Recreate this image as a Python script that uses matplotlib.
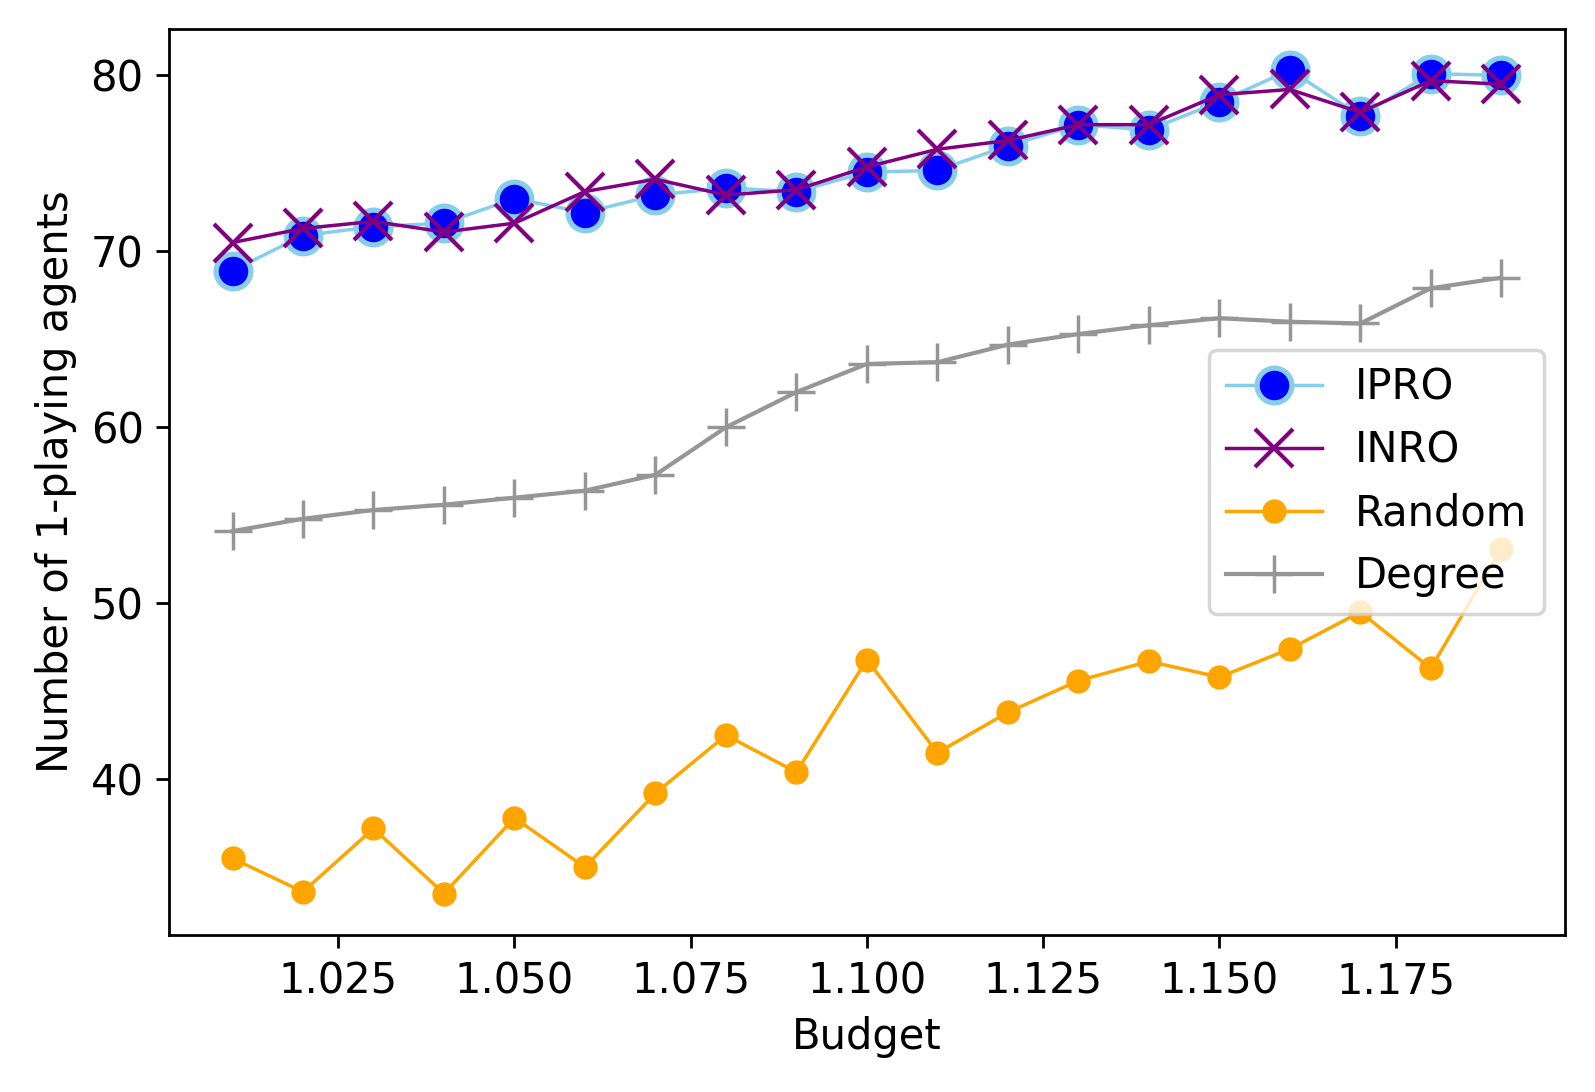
import numpy as np
import matplotlib
matplotlib.use('Agg')
import matplotlib.pyplot as plt

# budget values on the x axis
budget = [1.01, 1.02, 1.03, 1.04, 1.05, 1.06, 1.07, 1.08, 1.09, 1.10,
          1.11, 1.12, 1.13, 1.14, 1.15, 1.16, 1.17, 1.18, 1.19]

ipro = [68.9, 70.9, 71.4, 71.6, 73.0, 72.2, 73.2, 73.6, 73.4, 74.5,
        74.6, 76.0, 77.2, 76.9, 78.5, 80.3, 77.7, 80.1, 80.0]
inro = [70.5, 71.3, 71.7, 71.1, 71.6, 73.4, 74.1, 73.2, 73.5, 74.8,
        75.8, 76.3, 77.2, 77.2, 78.9, 79.2, 77.9, 79.7, 79.5]
random_sel = [35.5, 33.6, 37.2, 33.5, 37.8, 35.0, 39.2, 42.5, 40.4, 46.8,
              41.5, 43.8, 45.6, 46.7, 45.8, 47.4, 49.5, 46.3, 53.1]
degree = [54.1, 54.8, 55.3, 55.6, 56.0, 56.4, 57.3, 60.0, 62.0, 63.6,
          63.7, 64.7, 65.3, 65.8, 66.2, 66.0, 65.9, 67.9, 68.5]

plt.rcParams['font.size'] = 12
plt.rcParams['xtick.major.size'] = 3.8
plt.rcParams['ytick.major.size'] = 3.8

fig = plt.figure(figsize=(6.38, 4.368), dpi=250)
ax = fig.add_axes([0.106, 0.144, 0.875, 0.8295])

ax.plot(budget, ipro, marker='o', color='skyblue', markerfacecolor='blue',
        markeredgecolor='skyblue', markersize=10, markeredgewidth=1.5,
        linewidth=1, label='IPRO')
ax.plot(budget, inro, marker='x', color='purple', markersize=11,
        markeredgewidth=1.2, linewidth=1, label='INRO')
ax.plot(budget, random_sel, marker='o', color='orange', markersize=6,
        linewidth=1, label='Random')
ax.plot(budget, degree, marker='+', color='#969696', markersize=11,
        markeredgewidth=1, linewidth=1.2, label='Degree')

ax.set_xlabel('Budget')
ax.set_ylabel('Number of 1-playing agents')
ax.legend(loc='center right', fontsize=12, handlelength=2.3)

fig.savefig('out.png', dpi=250)
